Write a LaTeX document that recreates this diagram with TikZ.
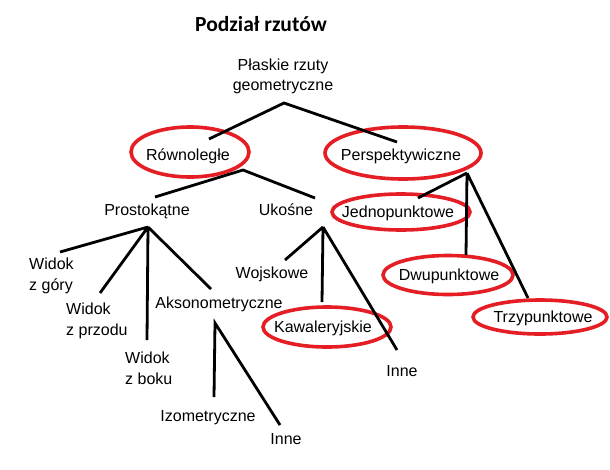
\documentclass[tikz,border=0pt]{standalone}
\usepackage{fontspec}
\setmainfont{Liberation Sans}
\newfontfamily\titlefont{Carlito}
\definecolor{ringred}{RGB}{228,30,36}
\begin{document}
\begin{tikzpicture}[x=1pt,y=-1pt,
  lbl/.style={inner sep=0pt,anchor=base,font=\fontsize{16}{20.5}\selectfont},
  lblml/.style={inner sep=0pt,anchor=north west,align=left,font=\fontsize{16}{21}\selectfont},
  edge/.style={line width=2.8pt,black},
  ring/.style={line width=3.6pt,ringred}]
\useasboundingbox[fill=white] (0,0) rectangle (610,469);
% title
\node[inner sep=0pt,anchor=base,font=\titlefont\bfseries\fontsize{21.5}{24}\selectfont] (title) at (261,31) {Podział rzutów};
% nodes
\node[inner sep=0pt,anchor=north,align=center,font=\fontsize{16}{20.5}\selectfont] (root) at (283,58.5) {Płaskie rzuty\\geometryczne};
\node[lbl] (rown) at (188,160) {Równoległe};
\node[lbl] (persp) at (401,160) {Perspektywiczne};
\node[lbl] (prost) at (147,215) {Prostokątne};
\node[lbl] (ukos) at (286,215) {Ukośne};
\node[lblml] (wgora) at (29,257.5) {Widok\\z góry};
\node[lblml] (wprzod) at (66,302.5) {Widok\\z przodu};
\node[lblml] (wbok) at (125,351.5) {Widok\\z boku};
\node[lbl] (akso) at (219,308) {Aksonometryczne};
\node[lbl] (izo) at (208,421) {Izometryczne};
\node[lbl] (inneA) at (286,444) {Inne};
\node[lbl] (wojsk) at (272,278) {Wojskowe};
\node[lbl] (kaw) at (323,332) {Kawaleryjskie};
\node[lbl] (inneU) at (402,376) {Inne};
\node[lbl] (jedno) at (398,217) {Jednopunktowe};
\node[lbl] (dwu) at (449,280) {Dwupunktowe};
\node[lbl] (trzy) at (543,322) {Trzypunktowe};
% red rings
\draw[ring] (190,152) ellipse [x radius=59pt, y radius=25pt];
\draw[ring] (403,153) ellipse [x radius=78pt, y radius=26pt];
\draw[ring] (327,327) ellipse [x radius=64pt, y radius=20pt];
\draw[ring] (401,212) ellipse [x radius=69pt, y radius=18pt];
\draw[ring] (448,275) ellipse [x radius=65pt, y radius=19.5pt];
\draw[ring] (540,317) ellipse [x radius=67pt, y radius=17pt];
% connector points
\coordinate (rA) at (284,103);
\coordinate (rL) at (209,139);
\coordinate (rR) at (397,142);
\coordinate (wA) at (243,170);
\coordinate (wL) at (155,197);
\coordinate (wR) at (315,198);
\coordinate (pA) at (148,227);
\coordinate (p1) at (60,252);
\coordinate (p2) at (100,293);
\coordinate (p3) at (147,340);
\coordinate (p4) at (211,289);
\coordinate (aA) at (215,323);
\coordinate (a1) at (214,397);
\coordinate (a2) at (280,425);
\coordinate (uA) at (323,227);
\coordinate (u1) at (285,260);
\coordinate (u2) at (322,302);
\coordinate (u3) at (397,350);
\coordinate (sA) at (467,173);
\coordinate (s1) at (418,198);
\coordinate (s2) at (466,255);
\coordinate (s3) at (528,298);
% connectors
\draw[edge] (rL) -- (rA) -- (rR);
\draw[edge] (wL) -- (wA) -- (wR);
\draw[edge] (pA) -- (p1) (pA) -- (p2) (pA) -- (p3) (pA) -- (p4);
\draw[edge] (a1) -- (aA) -- (a2);
\draw[edge] (uA) -- (u1) (uA) -- (u2) (uA) -- (u3);
\draw[edge] (sA) -- (s1) (sA) -- (s2) (sA) -- (s3);
\end{tikzpicture}
\end{document}
